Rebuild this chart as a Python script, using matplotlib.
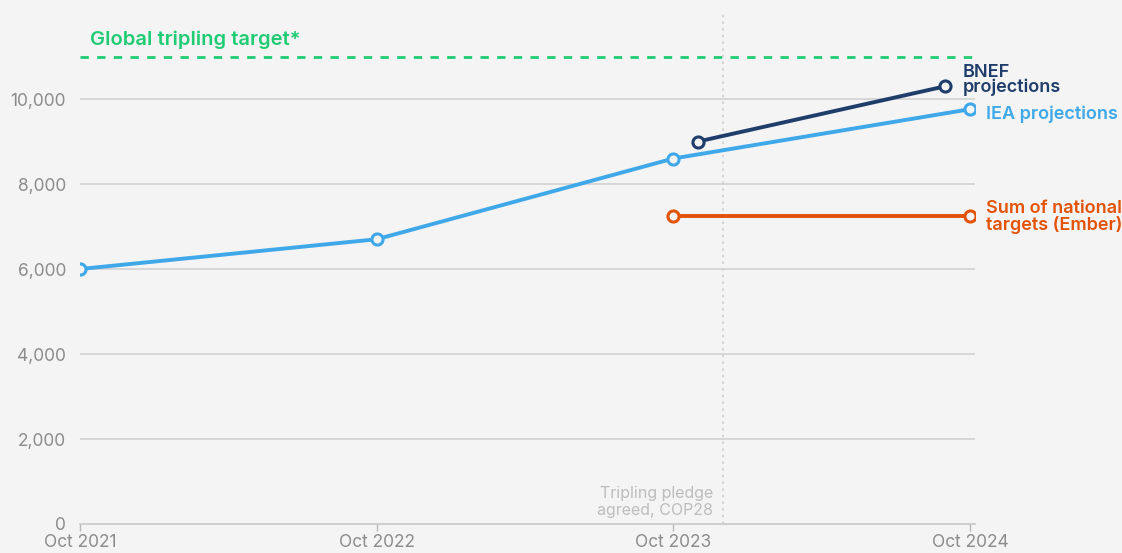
import matplotlib.pyplot as plt

# months since Oct 2021
iea_x = [0, 12, 24, 36]
iea_y = [6000, 6700, 8600, 9760]
bnef_x = [25, 35]
bnef_y = [9000, 10300]
ember_x = [24, 36]
ember_y = [7250, 7250]
target = 11000
pledge_x = 26
tick_pos = [0, 12, 24, 36]
tick_labels = ['Oct 2021', 'Oct 2022', 'Oct 2023', 'Oct 2024']
y_ticks = [0, 2000, 4000, 6000, 8000, 10000]

bg = '#f4f4f4'
c_iea = '#3ea8e8'
c_bnef = '#1f3d6b'
c_ember = '#e35205'
c_green = '#1fcc74'
c_tick = '#8c8c8c'

plt.rcParams['font.family'] = ['Inter', 'DejaVu Sans']

fig = plt.figure(figsize=(11.22, 5.53), dpi=100, facecolor=bg)
ax = fig.add_axes([80 / 1122, 29 / 553, 895 / 1122, 524 / 553])
ax.set_facecolor(bg)
ax.set_xlim(0, 36 * 895 / 890)
ax.set_ylim(0, 12330)

for v in y_ticks[1:]:
    ax.axhline(v, color='#d2d2d2', lw=1.2, zorder=1)

ax.axhline(target, color=c_green, lw=2, ls=(0, (3, 3)), zorder=2)
ax.axvline(pledge_x, ymax=11990 / 12330, color='#cfcfcf', lw=1.2, ls=(0, (1.5, 2.5)), zorder=1)

mk = dict(marker='o', markersize=8, markerfacecolor=bg, markeredgewidth=2.2, lw=2.8, zorder=4)
ax.plot(iea_x, iea_y, color=c_iea, markeredgecolor=c_iea, **mk)
ax.plot(bnef_x, bnef_y, color=c_bnef, markeredgecolor=c_bnef, **mk)
ax.plot(ember_x, ember_y, color=c_ember, markeredgecolor=c_ember, **mk)

for s in ['top', 'right', 'left']:
    ax.spines[s].set_visible(False)
ax.spines['bottom'].set_color('#c8c8c8')
ax.spines['bottom'].set_linewidth(1.2)
ax.spines['bottom'].set_bounds(0, 36 * 895 / 890)

ax.set_xticks(tick_pos)
ax.set_xticklabels(tick_labels, fontsize=12.5, color=c_tick)
ax.set_yticks(y_ticks)
ax.set_yticklabels([f'{v:,}' for v in y_ticks], fontsize=12.5, color=c_tick)
ax.tick_params(axis='x', length=5, width=1, color='#b8b8b8', pad=2)
ax.tick_params(axis='y', length=0, pad=10)

ax.text(0.4, 11390, 'Global tripling target*', color=c_green, fontsize=14.5,
        fontweight='semibold', va='center', ha='left')
ax.text(35.7, 10450, 'BNEF\nprojections', color=c_bnef, fontsize=13,
        fontweight='semibold', va='center', ha='left', linespacing=0.85)
ax.text(36.65, 9650, 'IEA projections', color=c_iea, fontsize=13,
        fontweight='semibold', va='center', ha='left')
ax.text(36.65, 7220, 'Sum of national\ntargets (Ember)', color=c_ember, fontsize=13,
        fontweight='semibold', va='center', ha='left', linespacing=0.9)
ax.text(25.6, 520, 'Tripling pledge\nagreed, COP28', color='#bdbdbd', fontsize=11.5,
        va='center', ha='right', linespacing=1.1)

fig.savefig('out.png', dpi=100, facecolor=bg)
